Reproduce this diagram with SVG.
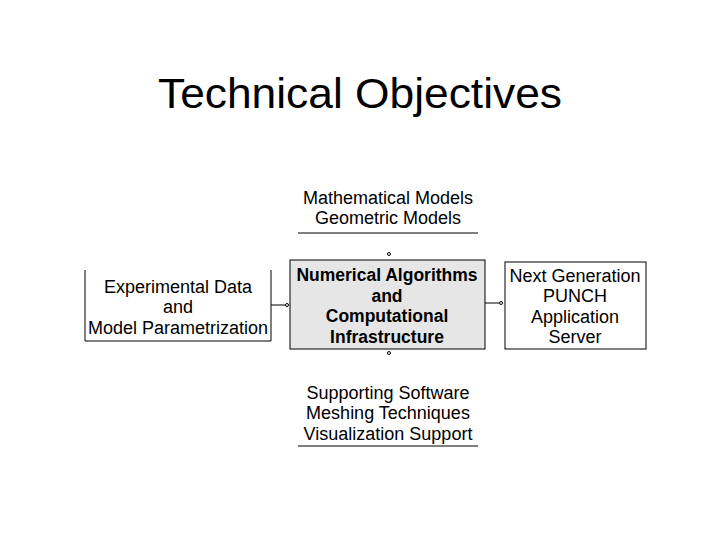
<svg xmlns="http://www.w3.org/2000/svg" width="720" height="540" viewBox="0 0 720 540">
<style>
text{font-family:"Liberation Sans",Arial,sans-serif;fill:#000;text-anchor:middle}
.t{font-size:18px}
.b{font-size:17.5px;font-weight:bold}
.box{fill:#fff;stroke:#000;stroke-width:1}
.ln{stroke:#000;stroke-width:1;fill:none}
</style>
<rect width="720" height="540" fill="#fff"/>
<text x="360" y="108" style="font-size:42px" textLength="404" lengthAdjust="spacingAndGlyphs">Technical Objectives</text>
<g id="top">
<text class="t" x="388" y="204">Mathematical Models</text>
<text class="t" x="388" y="224">Geometric Models</text>
<line class="ln" x1="298" y1="233" x2="478" y2="233"/>
</g>
<g id="left">
<path class="ln" d="M85,270 V341 H271 V270"/>
<text class="t" x="178" y="293">Experimental Data</text>
<text class="t" x="178" y="313">and</text>
<text class="t" x="178" y="334">Model Parametrization</text>
</g>
<g id="center">
<rect x="290" y="260" width="195" height="89" fill="#e6e6e6" stroke="#000"/>
<text class="b" x="387" y="281">Numerical Algorithms</text>
<text class="b" x="387" y="302">and</text>
<text class="b" x="387" y="322">Computational</text>
<text class="b" x="387" y="343">Infrastructure</text>
</g>
<g id="right">
<rect class="box" x="505" y="262" width="141" height="87"/>
<text class="t" x="575" y="282">Next Generation</text>
<text class="t" x="575" y="302">PUNCH</text>
<text class="t" x="575" y="323">Application</text>
<text class="t" x="575" y="343">Server</text>
</g>
<g id="bottom">
<text class="t" x="388" y="399">Supporting Software</text>
<text class="t" x="388" y="419">Meshing Techniques</text>
<text class="t" x="388" y="440">Visualization Support</text>
<line class="ln" x1="298" y1="446" x2="478" y2="446"/>
</g>
<g id="connectors" class="ln" stroke-width="0.8">
<line x1="271" y1="305" x2="285" y2="305"/><circle cx="287" cy="305" r="1.5"/>
<line x1="485" y1="303" x2="499" y2="303"/><circle cx="501" cy="303" r="1.5"/>
<circle cx="389" cy="254" r="1.5"/>
<circle cx="389" cy="353" r="1.5"/>
</g>
</svg>
